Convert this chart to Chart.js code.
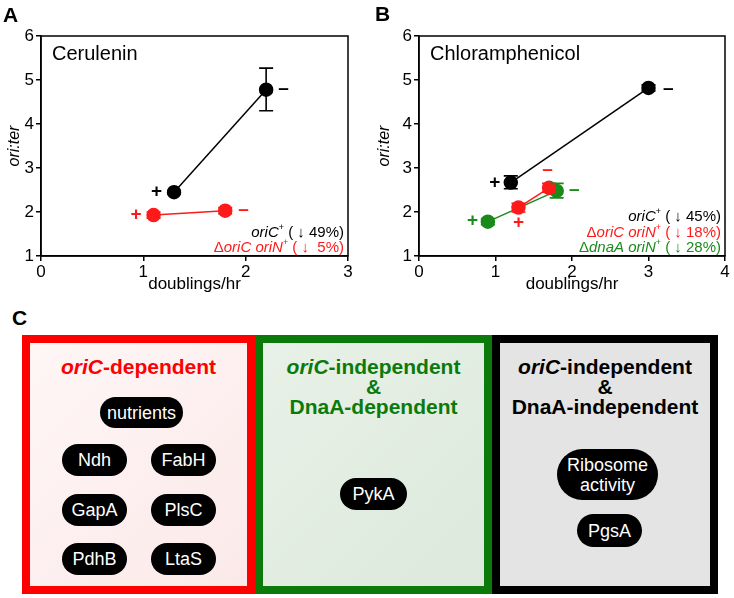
<!DOCTYPE html>
<html>
<head>
<meta charset="utf-8">
<script src="https://cdn.jsdelivr.net/npm/chart.js@4.4.0/dist/chart.umd.min.js"></script>
<style>
  body { margin: 0; background: #fff; font-family: Arial, "Liberation Sans", sans-serif; }
  #page { position: relative; width: 734px; height: 598px; overflow: hidden; }
  canvas { position: absolute; top: 0; }
  .letter { position: absolute; font-weight: bold; font-size: 21px; line-height: 21px; }
  .box { position: absolute; top: 335px; height: 243px; box-sizing: content-box; border: 8px solid; }
  .head { position: absolute; font-weight: bold; font-size: 21px; line-height: 20px; text-align: center; }
  .pill { position: absolute; background: #000; color: #fff; border-radius: 17px; font-size: 18px;
          display: flex; align-items: center; justify-content: center; text-align: center; line-height: 20px; }
</style>
</head>
<body>
<div id="page">
  <canvas id="chartA" width="370" height="300" style="left:0"></canvas>
  <canvas id="chartB" width="364" height="300" style="left:370px"></canvas>
  <div class="letter" style="left:3px;top:4px">A</div>
  <div class="letter" style="left:375px;top:3px">B</div>
  <div class="letter" style="left:12px;top:307px">C</div>

  <!-- panel C -->
  <div class="box" style="left:22px;width:217px;border-color:#f00;background:linear-gradient(135deg,#fff6f6,#fbe9e9)"></div>
  <div class="box" style="left:255px;width:221px;border-color:#0b7a0b;background:linear-gradient(135deg,#e8f1e7,#dde9dc)"></div>
  <div class="box" style="left:492px;width:210px;border-color:#000;background:#e4e4e4"></div>

  <div class="head" style="left:22px;width:233px;top:357px;color:#f00"><i>oriC</i>-dependent</div>
  <div class="head" style="left:255px;width:237px;top:357px;color:#0b7a0b"><i>oriC</i>-independent<br>&amp;<br>DnaA-dependent</div>
  <div class="head" style="left:492px;width:226px;top:357px;color:#000"><i>oriC</i>-independent<br>&amp;<br>DnaA-independent</div>

  <div class="pill" style="left:100px;top:397px;width:83px;height:31px">nutrients</div>
  <div class="pill" style="left:62px;top:444px;width:65px;height:32px">Ndh</div>
  <div class="pill" style="left:151px;top:444px;width:65px;height:32px">FabH</div>
  <div class="pill" style="left:62px;top:494px;width:65px;height:32px">GapA</div>
  <div class="pill" style="left:151px;top:494px;width:65px;height:32px">PlsC</div>
  <div class="pill" style="left:62px;top:543px;width:65px;height:32px">PdhB</div>
  <div class="pill" style="left:151px;top:543px;width:65px;height:32px">LtaS</div>
  <div class="pill" style="left:340px;top:478px;width:67px;height:32px">PykA</div>
  <div class="pill" style="left:557px;top:449px;width:101px;height:51px;border-radius:26px">Ribosome<br>activity</div>
  <div class="pill" style="left:577px;top:514px;width:65px;height:33px">PgsA</div>
</div>

<script>
// ---- Panel A: cerulenin ----
const ceruOriCX = [1.3, 2.2];
const ceruOriCY = [2.45, 4.78];
const ceruOriCLo = [2.41, 4.3];
const ceruOriCHi = [2.49, 5.27];

const ceruOriNX = [1.1, 1.8];
const ceruOriNY = [1.93, 2.03];
const ceruOriNLo = [1.86, 1.96];
const ceruOriNHi = [2.0, 2.1];

// +/- labels next to the points (x, y, text)
const ceruSignX = [1.13, 2.37, 0.93, 1.98];
const ceruSignY = [2.45, 4.8, 1.93, 2.06];
const ceruSignText = ['+', '-', '+', '-'];
const ceruSignSeries = [0, 0, 1, 1];

const ceruLegend = [
  [['oriC', 'i'], ['+', 's'], [' ( \u2193 49%)', 'n']],
  [['\u0394', 'n'], ['oriC oriN', 'i'], ['+', 's'], [' ( \u2193  5%)', 'n']]
];

// ---- Panel B: chloramphenicol ----
const chlorOriCX = [1.2, 3.0];
const chlorOriCY = [2.67, 4.82];
const chlorOriCLo = [2.53, 4.75];
const chlorOriCHi = [2.82, 4.89];

const chlorOriNX = [1.3, 1.7];
const chlorOriNY = [2.1, 2.55];
const chlorOriNLo = [2.0, 2.45];
const chlorOriNHi = [2.2, 2.65];

const chlorDnaAX = [0.9, 1.8];
const chlorDnaAY = [1.78, 2.48];
const chlorDnaALo = [1.71, 2.32];
const chlorDnaAHi = [1.85, 2.65];

const chlorSignX = [0.99, 3.26, 1.68, 1.3, 0.7, 2.03];
const chlorSignY = [2.66, 4.8, 2.97, 1.75, 1.79, 2.5];
const chlorSignText = ['+', '-', '-', '+', '+', '-'];
const chlorSignSeries = [0, 0, 1, 1, 2, 2];

const chlorLegend = [
  [['oriC', 'i'], ['+', 's'], [' ( \u2193 45%)', 'n']],
  [['\u0394', 'n'], ['oriC oriN', 'i'], ['+', 's'], [' ( \u2193 18%)', 'n']],
  [['\u0394', 'n'], ['dnaA oriN', 'i'], ['+', 's'], [' ( \u2193 28%)', 'n']]
];

const yTicks = [1, 2, 3, 4, 5, 6];
const seriesColors = ['#000000', '#ff1a1a', '#1a8a1a'];
const FONT = 'Arial, "Liberation Sans", sans-serif';

function points(xs, ys, lo, hi) {
  return xs.map((x, i) => ({ x: x, y: ys[i], lo: lo[i], hi: hi[i] }));
}

function series(data, color) {
  return {
    data: data,
    showLine: true,
    borderColor: color,
    backgroundColor: color,
    pointBackgroundColor: color,
    pointBorderColor: color,
    pointRadius: 6.5,
    pointHoverRadius: 6.5,
    borderWidth: 1.5
  };
}

// error bars, frame, title, legend text and +/- signs
const panelDecor = {
  id: 'panelDecor',
  afterDatasetsDraw(chart, args, opts) {
    const { ctx, chartArea: a, scales: { x, y } } = chart;
    ctx.save();
    chart.data.datasets.forEach(ds => {
      ctx.strokeStyle = ds.borderColor;
      ctx.lineWidth = 1.6;
      ds.data.forEach(p => {
        const px = x.getPixelForValue(p.x);
        const lo = y.getPixelForValue(p.lo);
        const hi = y.getPixelForValue(p.hi);
        ctx.beginPath();
        ctx.moveTo(px, lo); ctx.lineTo(px, hi);
        ctx.moveTo(px - 7, lo); ctx.lineTo(px + 7, lo);
        ctx.moveTo(px - 7, hi); ctx.lineTo(px + 7, hi);
        ctx.stroke();
      });
    });

    // full frame round plot area
    ctx.strokeStyle = '#000';
    ctx.lineWidth = 1.5;
    ctx.strokeRect(a.left, a.top, a.right - a.left, a.bottom - a.top);

    // drug name
    ctx.fillStyle = '#000';
    ctx.font = '20px ' + FONT;
    ctx.textBaseline = 'middle';
    ctx.textAlign = 'left';
    ctx.fillText(opts.title, a.left + 11, a.top + 18);

    // +/- signs
    ctx.font = 'bold 19px ' + FONT;
    ctx.textAlign = 'center';
    opts.signX.forEach((sx, i) => {
      ctx.fillStyle = seriesColors[opts.signSeries[i]];
      const t = opts.signText[i] === '-' ? '\u2013' : '+';
      ctx.fillText(t, x.getPixelForValue(sx), y.getPixelForValue(opts.signY[i]));
    });

    // right-aligned strain legend
    ctx.textAlign = 'left';
    const lines = opts.legend;
    lines.forEach((segs, li) => {
      const fontOf = k => k === 'i' ? 'italic 15px ' + FONT : (k === 's' ? '9px ' + FONT : '15px ' + FONT);
      let w = 0;
      segs.forEach(s => { ctx.font = fontOf(s[1]); w += ctx.measureText(s[0]).width; });
      let cx = a.right - 4 - w;
      const cy = a.bottom - 8 - (lines.length - 1 - li) * 15.5;
      ctx.fillStyle = seriesColors[li];
      segs.forEach(s => {
        ctx.font = fontOf(s[1]);
        ctx.fillText(s[0], cx, s[1] === 's' ? cy - 5 : cy);
        cx += ctx.measureText(s[0]).width;
      });
    });
    ctx.restore();
  }
};

function makeChart(id, datasets, xMax, yAxisWidth, padRight, decor) {
  return new Chart(document.getElementById(id), {
    type: 'scatter',
    data: { datasets: datasets },
    plugins: [panelDecor],
    options: {
      responsive: false,
      animation: false,
      devicePixelRatio: 1,
      layout: { padding: { top: 36, right: padRight, left: 0, bottom: 0 } },
      plugins: { legend: { display: false }, tooltip: { enabled: false }, panelDecor: decor },
      scales: {
        x: {
          type: 'linear', min: 0, max: xMax,
          afterFit: s => { s.height = 44; },
          border: { color: '#000', width: 1.5 },
          grid: { drawOnChartArea: false, color: '#000', lineWidth: 1.5, tickLength: 5 },
          ticks: { stepSize: 1, color: '#000', padding: 1, font: { family: FONT, size: 17 } },
          title: { display: true, text: 'doublings/hr', color: '#000', padding: { top: 0, bottom: 5 }, font: { family: FONT, size: 17 } }
        },
        y: {
          type: 'linear', min: 1, max: 6,
          afterFit: s => { s.width = yAxisWidth; },
          afterBuildTicks: s => { s.ticks = yTicks.map(v => ({ value: v })); },
          border: { color: '#000', width: 1.5 },
          grid: { drawOnChartArea: false, color: '#000', lineWidth: 1.5, tickLength: 5 },
          ticks: { color: '#000', padding: 2, font: { family: FONT, size: 17 } },
          title: { display: true, text: 'ori:ter', color: '#000', padding: { top: 5, bottom: 0 }, font: { family: FONT, size: 16, style: 'italic' } }
        }
      }
    }
  });
}

makeChart('chartA', [
  series(points(ceruOriCX, ceruOriCY, ceruOriCLo, ceruOriCHi), seriesColors[0]),
  series(points(ceruOriNX, ceruOriNY, ceruOriNLo, ceruOriNHi), seriesColors[1])
], 3, 41, 22, {
  title: 'Cerulenin', legend: ceruLegend,
  signX: ceruSignX, signY: ceruSignY, signText: ceruSignText, signSeries: ceruSignSeries
});

makeChart('chartB', [
  series(points(chlorOriCX, chlorOriCY, chlorOriCLo, chlorOriCHi), seriesColors[0]),
  series(points(chlorOriNX, chlorOriNY, chlorOriNLo, chlorOriNHi), seriesColors[1]),
  series(points(chlorDnaAX, chlorDnaAY, chlorDnaALo, chlorDnaAHi), seriesColors[2])
], 4, 49, 9, {
  title: 'Chloramphenicol', legend: chlorLegend,
  signX: chlorSignX, signY: chlorSignY, signText: chlorSignText, signSeries: chlorSignSeries
});
</script>
</body>
</html>
